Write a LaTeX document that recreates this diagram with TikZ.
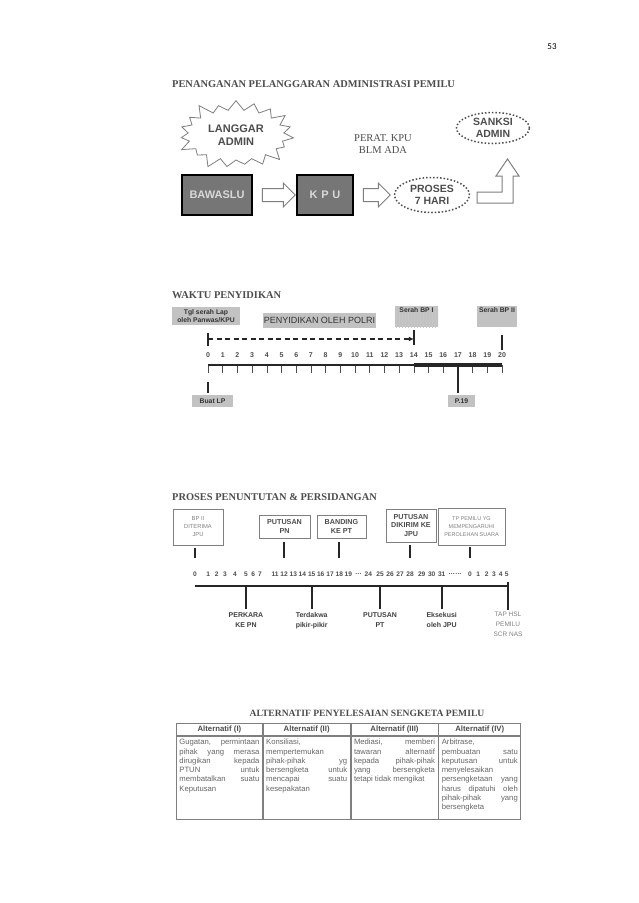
\documentclass[tikz,border=0pt]{standalone}
\usepackage{fontspec}
\setmainfont{Liberation Serif}
\setsansfont{Liberation Sans}
\newfontfamily\pagenofont{Carlito}
\usepackage{xcolor}
\usetikzlibrary{positioning,arrows.meta,shapes.geometric,shapes.symbols,shapes.arrows,patterns}

\definecolor{pemink}{HTML}{4D4D4D}
\definecolor{pemline}{HTML}{7F7F7F}
\definecolor{pemdarkfill}{HTML}{767676}
\definecolor{pemlabelfill}{HTML}{C2C2C2}

\newcommand{\pemfont}[2]{\fontsize{#1}{#2}\selectfont}
\newcommand{\pemcelltext}[3]{\parbox[t][#2][t]{#1}{\hyphenpenalty=10000\exhyphenpenalty=10000\tolerance=10000 #3}}

\tikzset{
    pemtitle/.style={anchor=west, inner sep=0pt, text=pemink, font=\rmfamily\bfseries\pemfont{10.4}{12}},
    pemburst/.style={starburst, starburst points=19, starburst point height=13pt, draw=pemline, line width=0.8pt, fill=white, align=center, minimum width=122pt, minimum height=76pt, inner sep=0pt, text=pemink, font=\sffamily\bfseries\pemfont{11}{13}},
    pemdark/.style={draw=black, line width=1.6pt, fill=pemdarkfill, minimum width=70pt, minimum height=40pt, inner sep=0pt, text=gray!30, font=\sffamily\bfseries\pemfont{11}{13}},
    pemblock/.style={single arrow, draw=pemline, line width=1pt, fill=white, inner sep=6pt, minimum height=33pt, single arrow head extend=5.5pt},
    pemoval/.style={ellipse, draw=pemink, dotted, line width=1.5pt, align=center, inner sep=0pt, text=pemink, font=\sffamily\bfseries\pemfont{10.5}{11.5}},
    pemnote/.style={align=center, inner sep=0pt, text=pemink, font=\rmfamily\pemfont{10.5}{12.5}},
    pemtag/.style={fill=pemlabelfill, align=center, inner sep=1pt, text=black!80, font=\sffamily\bfseries\pemfont{6.8}{8}},
    pemgrid/.style={inner sep=0pt, text=pemink, font=\sffamily\bfseries\pemfont{7}{8}},
    pembar/.style={draw=black!85, line width=2pt},
    pemaxis/.style={draw=black!85, line width=2.2pt},
    pemtick/.style={draw=black!70, line width=0.6pt},
    pemdash/.style={draw=black!85, line width=1.1pt, dash pattern=on 5pt off 3.5pt, -{Latex[length=5pt,width=5pt]}},
    pemstage/.style={draw=pemline, line width=0.8pt, fill=white, align=center, inner sep=2pt, text=pemink, font=\sffamily\bfseries\pemfont{7.2}{8.5}},
    pemstagelight/.style={pemstage, text=gray, font=\sffamily\pemfont{5.8}{8}},
    pemevent/.style={anchor=north, align=center, inner sep=0pt, text=black!75, font=\sffamily\bfseries\pemfont{7}{10}},
    pemhead/.style={draw=pemline, line width=0.8pt, anchor=north west, minimum height=12pt, inner sep=0pt, text=pemink, font=\sffamily\bfseries\pemfont{7.8}{9}},
    pemcell/.style={draw=pemline, line width=0.8pt, anchor=north west, inner sep=3pt, text=black!60, font=\sffamily\pemfont{7.7}{9.3}}
}

\begin{document}
\begin{tikzpicture}[x=1pt, y=-1pt]
    \fill[white] (0,0) rectangle (638,903);
    \useasboundingbox (0,0) rectangle (638,903);

    \node[inner sep=0pt, font=\pagenofont\pemfont{9}{10}] (pageno) at (552,47) {53};

    % pelanggaran administrasi
    \node[pemtitle] (admtitle) at (172,84) {PENANGANAN PELANGGARAN ADMINISTRASI PEMILU};
    \node[pemburst] (langgar) at (236,135) {LANGGAR\\ADMIN};
    \node[pemdark] (bawaslu) at (217,195) {BAWASLU};
    \node[pemblock] (arrowone) at (275.5,195) {};
    \node[pemdark, minimum width=56pt] (kpu) at (325,195) {K\,\,P\,\,U};
    \node[pemblock, minimum height=27pt] (arrowtwo) at (373.5,195) {};
    \node[pemnote] (perat) at (383,144) {PERAT. KPU\\BLM ADA};
    \node[pemoval, minimum width=75pt, minimum height=35pt] (proses) at (432,195) {PROSES\\7 HARI};
    \node[pemoval, minimum width=73pt, minimum height=31pt] (sanksi) at (493,128) {SANKSI\\ADMIN};
    \draw[pemline, line width=1pt, fill=white] (477,192) -- (502,192) -- (502,176) -- (496,176) -- (507.5,159)
        -- (519,176) -- (513,176) -- (513,203) -- (477,203) -- cycle;

    % waktu penyidikan
    \node[pemtitle] (sidiktitle) at (172,295) {WAKTU PENYIDIKAN};
    \node[pemtag, minimum width=68pt, minimum height=18pt] (serahlap) at (206,316) {Tgl serah Lap\\oleh Panwas/KPU};
    \node[pemtag, minimum width=107pt, minimum height=15pt, font=\sffamily\pemfont{9}{10}] (polri) at (319.5,320.5) {PENYIDIKAN OLEH POLRI};
    \node[pemtag, minimum width=43pt, text height=5pt, text depth=14pt, preaction={fill=pemlabelfill}, pattern=vertical lines, pattern color=gray!45] (bpone) at (416.5,316.5) {Serah BP I};
    \node[pemtag, minimum width=40pt, text height=5pt, text depth=14pt] (bptwo) at (497,316.5) {Serah BP II};

    \foreach \d in {0,...,20} {
        \coordinate (s\d) at ({208+14.7*\d},365);
        \node[pemgrid] (num\d) at ({208+14.7*\d},355) {\d};
        \draw[pemtick] (s\d) -- ++(0,8);
    }
    \draw[pemaxis] (s0) -- (s14);
    \draw[pemaxis, line width=3.2pt] (s14) -- (s20);

    \coordinate (dashstart) at (208,339);
    \coordinate (dashend) at ({208+14.7*14},339);
    \draw[pembar] (dashstart) ++(0,-6) -- ++(0,13);
    \draw[pemdash] (dashstart) -- (dashend);
    \draw[pembar] (dashend) ++(0,-9) -- ++(0,15);
    \draw[pembar] (num20) ++(0,-20) -- ++(0,15);

    \node[pemtag, minimum width=41pt, minimum height=12pt] (buatlp) at (212.5,401) {Buat LP};
    \node[pemtag, minimum width=27pt, minimum height=12pt] (ptsembilan) at (461.5,401) {P.19};
    \draw[pembar] (s0) ++(0,17) -- ++(0,11);
    \draw[pembar] (s17) -- ++(0,28);

    % penuntutan dan persidangan
    \node[pemtitle] (tuntuttitle) at (172,497) {PROSES PENUNTUTAN \& PERSIDANGAN};
    \node[pemstagelight, minimum width=50pt, minimum height=36pt] (bpdua) at (198,527) {BP II\\DITERIMA\\JPU};
    \node[pemstage, minimum width=51pt, minimum height=23pt] (putusanpn) at (284.5,526.5) {PUTUSAN\\PN};
    \node[pemstage, minimum width=49pt, minimum height=23pt] (banding) at (341.5,526.5) {BANDING\\KE PT};
    \node[pemstage, minimum width=50pt, minimum height=33pt] (dikirim) at (411,525.5) {PUTUSAN\\DIKIRIM KE\\JPU};
    \node[pemstagelight, minimum width=67pt, minimum height=37pt, font=\sffamily\pemfont{5.5}{8}] (tppemilu) at (471.5,526.5) {TP PEMILU YG\\MEMPENGARUHI\\PEROLEHAN SUARA};

    \foreach [count=\i] \lbl/\xx in {0/195, 1/208.3, 2/216.7, 3/225, 4/235, 5/246, 6/253.3, 7/260,
        11/275, 12/284, 13/293.3, 14/302.3, 15/311.7, 16/320.7, 17/330, 18/339.3, 19/348.3, \ldots/358.3,
        24/368.3, 25/380, 26/390, 27/400, 28/410, 29/421.7, 30/431.7, 31/441.7, \ldots\ldots/455,
        0/470, 1/478.3, 2/486.7, 3/494, 4/500.7, 5/506.7} {
        \node[pemgrid, font=\sffamily\bfseries\pemfont{6.6}{8}] (tn\i) at (\xx,574) {\lbl};
    }
    \coordinate (tbarrow) at (0,558);
    \coordinate (tstart) at (195,586);
    \coordinate (tend) at (508,586);
    \draw[pemaxis] (tstart) -- (tend);

    \draw[pembar] (bpdua.south -| tn1) ++(0,3) -- (tn1 |- tbarrow);
    \draw[pembar] (putusanpn.south -| tn10) ++(0,4) -- (tn10 |- tbarrow);
    \draw[pembar] (banding.south -| tn16) ++(0,4) -- (tn16 |- tbarrow);
    \draw[pembar] (dikirim.south -| tn23) ++(0,3) -- (tn23 |- tbarrow);
    \draw[pembar] (tppemilu.south -| tn28) ++(0,2) -- (tn28 |- tbarrow);

    \node[pemevent] (perkara) at (246,612) {PERKARA\\KE PN};
    \node[pemevent] (terdakwa) at (311.7,612) {Terdakwa\\pikir-pikir};
    \node[pemevent] (putusanpt) at (380,612) {PUTUSAN\\PT};
    \node[pemevent] (eksekusi) at (441.7,612) {Eksekusi\\oleh JPU};
    \node[pemevent, text=gray, font=\sffamily\pemfont{6.5}{10}] (taphsl) at (508,612) {TAP HSL\\PEMILU\\SCR NAS};

    \draw[pembar] (tn6 |- tstart) -- ([yshift=3pt]perkara.north);
    \draw[pembar] (tn13 |- tstart) -- ([yshift=3pt]terdakwa.north);
    \draw[pembar] (tn20 |- tstart) -- ([yshift=3pt]putusanpt.north);
    \draw[pembar] (tn26 |- tstart) -- ([yshift=3pt]eksekusi.north);
    \draw[pembar] (tend) ++(0,-4) -- ([yshift=2pt]taphsl.north);

    % alternatif penyelesaian
    \node[pemtitle, anchor=center, font=\rmfamily\bfseries\pemfont{9.6}{11}] (alttitle) at (367,713) {ALTERNATIF PENYELESAIAN SENGKETA PEMILU};
    \node[pemhead, minimum width=86pt] (altone) at (176,723) {Alternatif (I)};
    \node[pemhead, minimum width=87pt, right=0pt of altone] (alttwo) {Alternatif (II)};
    \node[pemhead, minimum width=87pt, right=0pt of alttwo] (altthree) {Alternatif (III)};
    \node[pemhead, minimum width=82pt, right=0pt of altthree] (altfour) {Alternatif (IV)};

    \node[pemcell] (cellone) at (altone.south west) {\pemcelltext{80pt}{77pt}{Gugatan, permintaan\linebreak pihak yang merasa\linebreak dirugikan kepada\linebreak PTUN untuk\linebreak membatalkan suatu\linebreak Keputusan}};
    \node[pemcell] (celltwo) at (alttwo.south west) {\pemcelltext{81pt}{77pt}{Konsiliasi,\linebreak mempertemukan\linebreak pihak-pihak yg\linebreak bersengketa untuk\linebreak mencapai suatu\linebreak kesepakatan}};
    \node[pemcell] (cellthree) at (altthree.south west) {\pemcelltext{81pt}{77pt}{Mediasi, memberi\linebreak tawaran alternatif\linebreak kepada pihak-pihak\linebreak yang bersengketa\linebreak tetapi tidak mengikat}};
    \node[pemcell] (cellfour) at (altfour.south west) {\pemcelltext{76pt}{77pt}{Arbitrase,\linebreak pembuatan satu\linebreak keputusan untuk\linebreak menyelesaikan\linebreak persengketaan yang\linebreak harus dipatuhi oleh\linebreak pihak-pihak yang\linebreak bersengketa}};
\end{tikzpicture}
\end{document}
